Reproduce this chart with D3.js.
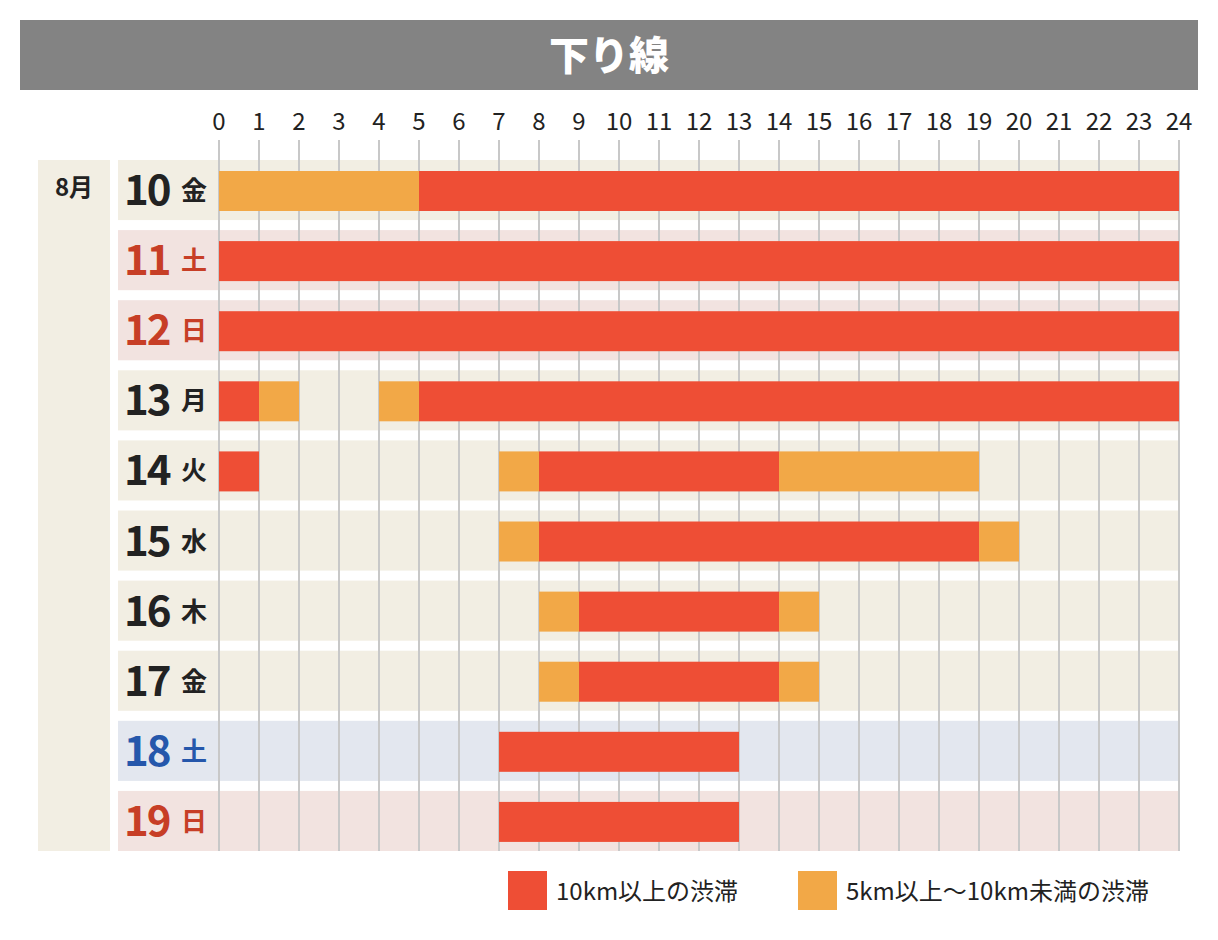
<!DOCTYPE html><html><head><meta charset="utf-8"><script src="https://cdn.jsdelivr.net/npm/d3@7"></script>
<style>body{margin:0;background:#fff}text{font-family:"Noto Sans CJK JP",sans-serif}</style></head><body><script>
const hours=d3.range(0,25);
const days=["10","11","12","13","14","15","16","17","18","19"];
const weekdays=["金","土","日","月","火","水","木","金","土","日"];
const dayTypes=["w","h","h","w","w","w","w","w","s","h"];
// [day, start, end, level]  level: 1 = 10km以上, 2 = 5km以上〜10km未満
const segments=[
["10",0,5,2],["10",5,24,1],
["11",0,24,1],
["12",0,24,1],
["13",0,1,1],["13",1,2,2],["13",4,5,2],["13",5,24,1],
["14",0,1,1],["14",7,8,2],["14",8,14,1],["14",14,19,2],
["15",7,8,2],["15",8,19,1],["15",19,20,2],
["16",8,9,2],["16",9,14,1],["16",14,15,2],
["17",8,9,2],["17",9,14,1],["17",14,15,2],
["18",7,13,1],
["19",7,13,1]];
const legend=[[1,"10km以上の渋滞"],[2,"5km以上〜10km未満の渋滞"]];
const colors={1:"#ee4e35",2:"#f2a847"};
const bg={w:"#f2eee3",h:"#f2e3e0",s:"#e3e7ef"};
const fg={w:"#222",h:"#c73e26",s:"#2557ab"};

const svg=d3.select("body").append("svg").attr("width",1218).attr("height",940);
svg.append("rect").attr("x",20).attr("y",20).attr("width",1178).attr("height",70).attr("fill","#838383");
svg.append("text").attr("x",609).attr("y",70).attr("text-anchor","middle").attr("fill","#fff").attr("font-size",40).attr("font-weight",900).text("下り線");
const x=d3.scaleLinear().domain([0,24]).range([219,1179]);
const y=d3.scaleBand().domain(days).range([160,851]).paddingInner(10/70).paddingOuter(0);
// adjust: 10 rows, step 70, band 60 -> total 690
svg.append("rect").attr("x",38).attr("y",160).attr("width",72).attr("height",691).attr("fill","#f2eee3");
svg.append("text").attr("x",74).attr("y",196).attr("text-anchor","middle").attr("font-size",24).attr("font-weight",700).attr("fill","#222").text("8月");
days.forEach((d,i)=>{
  svg.append("rect").attr("x",118).attr("y",y(d)).attr("width",1179-118).attr("height",y.bandwidth()).attr("fill",bg[dayTypes[i]]);
  const cy=y(d)+y.bandwidth()/2;
  svg.append("text").attr("x",124).attr("y",cy+15).attr("font-size",42).attr("font-weight",700).attr("fill",fg[dayTypes[i]]).attr("letter-spacing",-2).text(d);
  svg.append("text").attr("x",194).attr("y",cy+10).attr("text-anchor","middle").attr("font-size",26).attr("font-weight",700).attr("fill",fg[dayTypes[i]]).text(weekdays[i]);
});
svg.selectAll(".g").data(hours).enter().append("line").attr("x1",d=>x(d)).attr("x2",d=>x(d)).attr("y1",140).attr("y2",851).attr("stroke","#c8c8c8").attr("stroke-width",2);
svg.selectAll(".h").data(hours).enter().append("text").attr("x",d=>x(d)).attr("y",130).attr("text-anchor","middle").attr("font-size",24).attr("fill","#222").text(d=>d);
svg.selectAll(".b").data(segments).enter().append("rect").attr("x",d=>x(d[1])).attr("width",d=>x(d[2])-x(d[1])).attr("y",d=>y(d[0])+11).attr("height",40).attr("fill",d=>colors[d[3]]);
const lx=[508,798];
legend.forEach((l,i)=>{
  svg.append("rect").attr("x",lx[i]).attr("y",871).attr("width",39).attr("height",39).attr("fill",colors[l[0]]);
  svg.append("text").attr("x",lx[i]+48).attr("y",900).attr("font-size",24).attr("fill","#222").text(l[1]);
});
</script></body></html>
